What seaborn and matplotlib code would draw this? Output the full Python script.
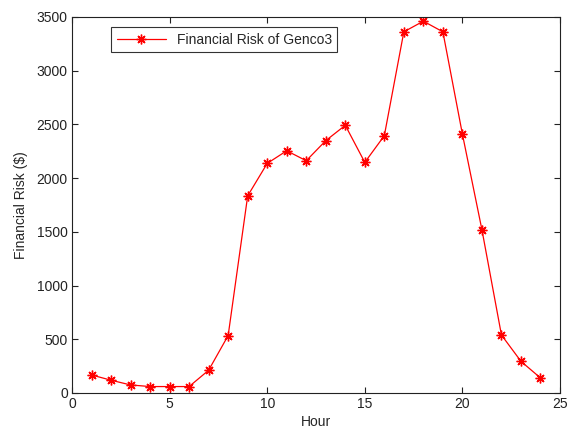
import matplotlib
matplotlib.use("Agg")
import matplotlib.pyplot as plt
import seaborn as sns
import pandas as pd

hours = list(range(1, 25))
risk = [168, 119, 75, 60, 60, 60, 212, 535, 1835, 2137, 2255, 2162,
        2349, 2492, 2147, 2395, 3362, 3461, 3362, 2410, 1520, 540, 295, 140]

sns.set_style("white")
plt.rcParams['font.family'] = ['Liberation Sans', 'DejaVu Sans']
plt.rcParams['font.size'] = 10

df = pd.DataFrame({'Hour': hours, 'Risk': risk})

fig = plt.figure(figsize=(5.7, 4.28), dpi=100)
ax = fig.add_axes([72 / 570, 1 - 393 / 428, 488 / 570, 376 / 428])

# MATLAB-style asterisk marker
sns.lineplot(data=df, x='Hour', y='Risk', ax=ax, color='red', marker=(8, 2, 0),
             markersize=7, markeredgecolor='red', markeredgewidth=1.0,
             linewidth=0.9, label='Financial Risk of Genco3')

ax.set_xlim(0, 25)
ax.set_ylim(0, 3500)
ax.set_xticks([0, 5, 10, 15, 20, 25])
ax.set_yticks(range(0, 3501, 500))
ax.set_xlabel('Hour', fontsize=10, labelpad=3)
ax.set_ylabel('Financial Risk ($)', fontsize=10, labelpad=6)
ax.tick_params(direction='in', length=4, top=True, right=True, labelsize=10,
               bottom=True, left=True, width=0.8, colors='#222222', pad=3)
for s in ax.spines.values():
    s.set_color('#222222')
    s.set_linewidth(0.8)

leg = ax.legend(loc='upper left', bbox_to_anchor=(0.075, 0.98), fontsize=10,
                frameon=True, fancybox=False, edgecolor='black',
                handlelength=3.5, borderpad=0.4, borderaxespad=0.2)
leg.get_frame().set_linewidth(0.8)

fig.savefig('out.png', dpi=100, facecolor='white')
